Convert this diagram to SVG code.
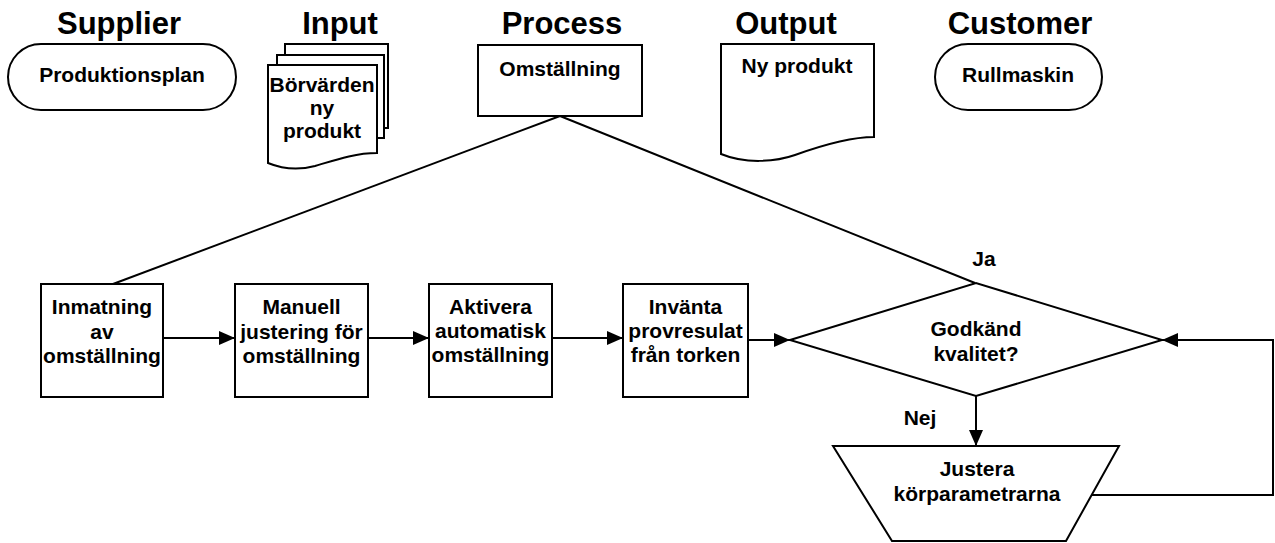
<svg xmlns="http://www.w3.org/2000/svg" width="1275" height="543" viewBox="0 0 1275 543">
  <style>
    .shape { fill: #ffffff; stroke: #000000; stroke-width: 2; stroke-linejoin: miter; }
    .line { fill: none; stroke: #000000; stroke-width: 2; }
    text { font-family: "Liberation Sans", Arial, Helvetica, sans-serif; font-weight: bold; fill: #000000; text-anchor: middle; }
    .title { font-size: 31px; }
    .label { font-size: 21px; }
  </style>
  <defs>
    <marker id="arrow" viewBox="0 0 16 14" refX="16" refY="7" markerWidth="16" markerHeight="14" orient="auto" markerUnits="userSpaceOnUse">
      <path d="M0,0 L16,7 L0,14 Z" fill="#000000"/>
    </marker>
  </defs>

  <rect width="1275" height="543" fill="#ffffff"/>

  <!-- column headings -->
  <g id="headings">
    <text class="title" x="119" y="34">Supplier</text>
    <text class="title" x="340" y="34">Input</text>
    <text class="title" x="562" y="34">Process</text>
    <text class="title" x="786" y="34">Output</text>
    <text class="title" x="1020" y="34">Customer</text>
  </g>

  <!-- connectors -->
  <g id="connectors">
    <line class="line" x1="560" y1="116" x2="113" y2="284"/>
    <line class="line" x1="560" y1="116" x2="975" y2="283"/>
    <line class="line" x1="163" y1="338" x2="235" y2="338" marker-end="url(#arrow)"/>
    <line class="line" x1="368" y1="338" x2="429" y2="338" marker-end="url(#arrow)"/>
    <line class="line" x1="552" y1="338" x2="623" y2="338" marker-end="url(#arrow)"/>
    <line class="line" x1="748" y1="340" x2="790" y2="340" marker-end="url(#arrow)"/>
    <line class="line" x1="976" y1="396" x2="976" y2="446" marker-end="url(#arrow)"/>
    <polyline class="line" points="1092,495 1273,495 1273,340 1162,340" marker-end="url(#arrow)"/>
    <text class="label" x="984" y="266">Ja</text>
    <text class="label" x="920" y="425">Nej</text>
  </g>

  <!-- supplier terminal -->
  <g id="supplier">
    <rect class="shape" x="8" y="44" width="228" height="66" rx="33" ry="33"/>
    <text class="label" x="122" y="82">Produktionsplan</text>
  </g>

  <!-- input: stacked documents -->
  <g id="input">
    <rect class="shape" x="285" y="44" width="103" height="84"/>
    <rect class="shape" x="277" y="55" width="107" height="83"/>
    <path class="shape" d="M268,65 H377 V153 C355,153 335,160 315,166 C300,170 285,170 268,163 Z"/>
    <text class="label" x="322" y="92">Börvärden</text>
    <text class="label" x="322" y="115">ny</text>
    <text class="label" x="322" y="138">produkt</text>
  </g>

  <!-- process box -->
  <g id="process">
    <rect class="shape" x="478" y="45" width="164" height="71"/>
    <text class="label" x="560" y="76">Omställning</text>
  </g>

  <!-- output document -->
  <g id="output">
    <path class="shape" d="M721,44 H874 V137 C850,137 820,146 795,155 C775,162 745,164 721,154 Z"/>
    <text class="label" x="797" y="73">Ny produkt</text>
  </g>

  <!-- customer terminal -->
  <g id="customer">
    <rect class="shape" x="935" y="44" width="167" height="66" rx="33" ry="33"/>
    <text class="label" x="1018" y="82">Rullmaskin</text>
  </g>

  <!-- process steps -->
  <g id="step-inmatning">
    <rect class="shape" x="41" y="284" width="122" height="113"/>
    <text class="label" x="102" y="314">Inmatning</text>
    <text class="label" x="102" y="339">av</text>
    <text class="label" x="102" y="363">omställning</text>
  </g>

  <g id="step-manuell">
    <rect class="shape" x="235" y="284" width="133" height="113"/>
    <text class="label" x="301.5" y="314">Manuell</text>
    <text class="label" x="301.5" y="339">justering för</text>
    <text class="label" x="301.5" y="363">omställning</text>
  </g>

  <g id="step-aktivera">
    <rect class="shape" x="429" y="284" width="123" height="113"/>
    <text class="label" x="490.5" y="314">Aktivera</text>
    <text class="label" x="490.5" y="338">automatisk</text>
    <text class="label" x="490.5" y="362">omställning</text>
  </g>

  <g id="step-invanta">
    <rect class="shape" x="623" y="284" width="125" height="113"/>
    <text class="label" x="685.5" y="314">Invänta</text>
    <text class="label" x="685.5" y="338">provresulat</text>
    <text class="label" x="685.5" y="362">från torken</text>
  </g>

  <!-- decision -->
  <g id="decision">
    <polygon class="shape" points="790,340 976,283 1162,340 976,396"/>
    <text class="label" x="976" y="336">Godkänd</text>
    <text class="label" x="976" y="361">kvalitet?</text>
  </g>

  <!-- manual adjustment -->
  <g id="adjust">
    <polygon class="shape" points="833,446 1119,446 1066,541 892,541"/>
    <text class="label" x="977" y="476">Justera</text>
    <text class="label" x="977" y="501">körparametrarna</text>
  </g>
</svg>
